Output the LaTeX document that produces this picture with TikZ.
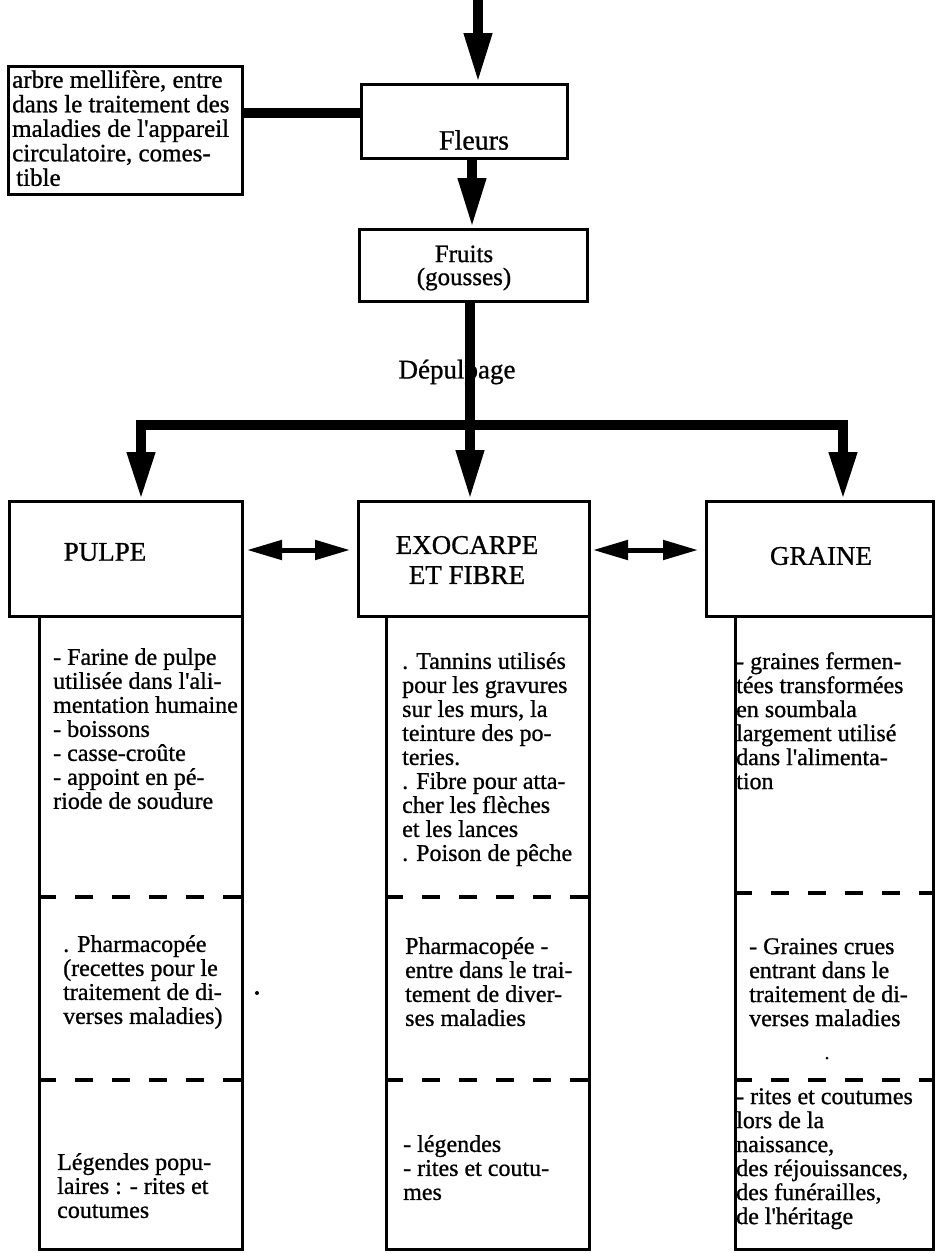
\documentclass[tikz,border=0pt]{standalone}
\usepackage{fontspec}
\setmainfont{Liberation Serif}[FakeBold=0.9]
\usetikzlibrary{arrows.meta}
\newcommand{\ap}{\textquotesingle}
\begin{document}
\begin{tikzpicture}[x=1pt,y=-1pt,
  box/.style={draw, line width=2.6pt, inner sep=0pt, anchor=north west},
  fat/.style={line width=10pt},
  bigtip/.style={-{Triangle[length=50pt,width=26pt]}},
  twotips/.style={{Triangle[length=48pt,width=26pt]}-{Triangle[length=48pt,width=26pt]}},
  twoway/.style={line width=5pt,{Triangle[length=35pt,width=19pt]}-{Triangle[length=35pt,width=19pt]}},
  sep/.style={line width=3.5pt, dash pattern=on 18pt off 19pt},
  txt/.style={inner sep=0pt, anchor=north west, align=left, font=\fontsize{24}{24}\selectfont},
  head/.style={inner sep=0pt, align=center, font=\fontsize{27}{30}\selectfont},
]
\useasboundingbox (0,0) rectangle (936,1253);

% boxes of the upper chain
\node[box, minimum width=234pt, minimum height=128pt] (lbox) at (7,65) {};
\node[box, minimum width=206pt, minimum height=74pt] (fleurs) at (360,83) {};
\node[box, minimum width=228pt, minimum height=72pt] (fruits) at (358,228) {};

% headers of the three parts
\node[box, minimum width=233pt, minimum height=115pt] (pulpe) at (8,500) {};
\node[box, minimum width=231pt, minimum height=115pt] (exo) at (357,500) {};
\node[box, minimum width=227pt, minimum height=115pt] (graine) at (705,500) {};

% columns of uses
\node[box, minimum width=203pt, minimum height=633pt] (pcol) at (38,615) {};
\node[box, minimum width=203pt, minimum height=633pt] (ecol) at (385,615) {};
\node[box, minimum width=198pt, minimum height=633pt] (gcol) at (734,615) {};

% dashed separators inside the columns
\coordinate (d1) at (0,897);
\coordinate (d1g) at (0,893);
\coordinate (d2) at (0,1080);
\draw[sep] (pcol.west |- d1) -- (pcol.east |- d1);
\draw[sep] (ecol.west |- d1) -- (ecol.east |- d1);
\draw[sep] (gcol.west |- d1g) -- (gcol.east |- d1g);
\draw[sep] (pcol.west |- d2) -- (pcol.east |- d2);
\draw[sep] (ecol.west |- d2) -- (ecol.east |- d2);
\draw[sep] (gcol.west |- d2) -- (gcol.east |- d2);

% connectors
\coordinate (src) at (478,0);
\coordinate (cy) at (0,113);
\coordinate (fx) at (472,0);
\coordinate (sx) at (470,0);
\coordinate (bl) at (141,425);
\coordinate (br) at (843,425);
\draw[fat, bigtip] (src) -- (src |- fleurs.north);
\draw[fat] (lbox.east |- cy) -- (fleurs.west |- cy);
\draw[fat, bigtip] (fleurs.south -| fx) -- (fruits.north -| fx);
\draw[fat, bigtip] (fruits.south -| sx) -- (exo.north -| sx);
\draw[fat, twotips] (pulpe.north -| bl) -- (bl) -- (br) -- (graine.north -| br);

\coordinate (a1) at (247,550);
\coordinate (a2) at (350,550);
\coordinate (a3) at (593,550);
\coordinate (a4) at (698,550);
\draw[twoway] (a1) -- (a2);
\draw[twoway] (a3) -- (a4);

% texts
\node[txt, font=\fontsize{25}{24.5}\selectfont] (ltxt) at (12,70)
  {arbre mellifère, entre\\dans le traitement des\\maladies de l\ap appareil\\circulatoire, comes-\\\hspace{4pt}tible};
\node[head, font=\fontsize{28}{30}\selectfont] (tfleurs) at (474,140) {Fleurs};
\node[head, font=\fontsize{25}{23}\selectfont] (tfruits) at (464,268) {Fruits\\(gousses)};
\node[head] (tdep) at (457,372) {Dépulpage};
\node[head] (tpulpe) at (105,552) {PULPE};
\node[head] (texo) at (467,560) {EXOCARPE\\ET FIBRE};
\node[head] (tgraine) at (821,556) {GRAINE};

\node[txt] (p1) at (53,648)
  {- Farine de pulpe\\utilisée dans l\ap ali-\\mentation humaine\\- boissons\\- casse-croûte\\- appoint en pé-\\riode de soudure};
\node[txt] (e1) at (402,652)
  {. Tannins utilisés\\pour les gravures\\sur les murs, la\\teinture des po-\\teries.\\. Fibre pour atta-\\cher les flèches\\et les lances\\. Poison de pêche};
\node[txt] (g1) at (736,652)
  {- graines fermen-\\tées transformées\\en soumbala\\largement utilisé\\dans l\ap alimenta-\\tion};

\node[txt] (p2) at (63,935)
  {. Pharmacopée\\(recettes pour le\\traitement de di-\\verses maladies)};
\node[txt] (e2) at (405,937)
  {Pharmacopée -\\entre dans le trai-\\tement de diver-\\ses maladies};
\node[txt] (g2) at (749,938)
  {- Graines crues\\entrant dans le\\traitement de di-\\verses maladies};

\node[txt] (p3) at (57,1153)
  {Légendes popu-\\laires : - rites et\\coutumes};
\node[txt] (e3) at (403,1135)
  {- légendes\\- rites et coutu-\\mes};
\node[txt] (g3) at (736,1088)
  {- rites et coutumes\\lors de la\\naissance,\\des réjouissances,\\des funérailles,\\de l\ap héritage};

% stray dots
\fill (257,993) circle (2pt);
\fill (827,1058) circle (1.5pt);
\end{tikzpicture}
\end{document}
